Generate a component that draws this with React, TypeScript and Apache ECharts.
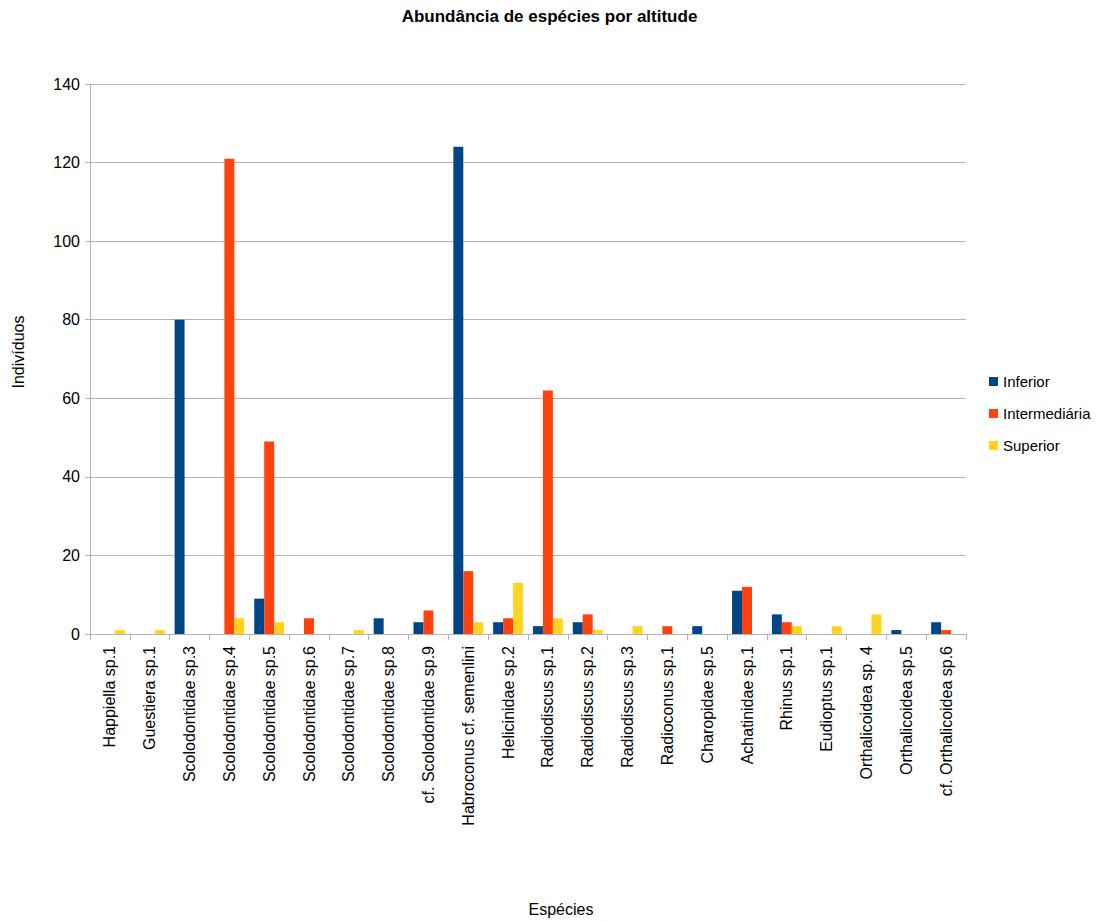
import React, { useEffect, useRef } from "react";
import * as echarts from "echarts";

const species = [
  "Happiella sp.1",
  "Guestiera sp.1",
  "Scolodontidae sp.3",
  "Scolodontidae sp.4",
  "Scolodontidae sp.5",
  "Scolodontidae sp.6",
  "Scolodontidae sp.7",
  "Scolodontidae sp.8",
  "cf. Scolodontidae sp.9",
  "Habroconus cf. semenlini",
  "Helicinidae sp.2",
  "Radiodiscus sp.1",
  "Radiodiscus sp.2",
  "Radiodiscus sp.3",
  "Radioconus sp.1",
  "Charopidae sp.5",
  "Achatinidae sp.1",
  "Rhinus sp.1",
  "Eudioptus sp.1",
  "Orthalicoidea sp. 4",
  "Orthalicoidea sp.5",
  "cf. Orthalicoidea sp.6",
];

const inferior = [0, 0, 80, 0, 9, 0, 0, 4, 3, 124, 3, 2, 3, 0, 0, 2, 11, 5, 0, 0, 1, 3];
const intermediaria = [0, 0, 0, 121, 49, 4, 0, 0, 6, 16, 4, 62, 5, 0, 2, 0, 12, 3, 0, 0, 0, 1];
const superior = [1, 1, 0, 4, 3, 0, 1, 0, 0, 3, 13, 4, 1, 2, 0, 0, 0, 2, 2, 5, 0, 0];

const yTicks = [0, 20, 40, 60, 80, 100, 120, 140];

const FONT = "'Liberation Sans', Arial, sans-serif";
const GRID = "#b3b3b3";

export default function App() {
  const ref = useRef<HTMLDivElement>(null);

  useEffect(() => {
    if (!ref.current) return;
    const chart = echarts.init(ref.current, undefined, { renderer: "svg" });
    const bar = (name: string, data: number[], color: string) => ({
      name,
      type: "bar",
      data,
      barGap: "0%",
      barCategoryGap: "25%",
      itemStyle: { color },
    });
    chart.setOption({
      animation: false,
      textStyle: { fontFamily: FONT },
      title: {
        text: "Abundância de espécies por altitude",
        left: "center",
        top: 3,
        textStyle: { fontFamily: FONT, fontSize: 17, fontWeight: "bold", color: "#000" },
      },
      legend: {
        orient: "vertical",
        left: 984,
        top: 369,
        itemWidth: 9,
        itemHeight: 9,
        itemGap: 17,
        icon: "rect",
        textStyle: { fontFamily: FONT, fontSize: 15, color: "#000" },
        data: ["Inferior", "Intermediária", "Superior"],
      },
      grid: {
        left: 90,
        top: 84,
        width: 876,
        height: 550,
        containLabel: false,
        outerBoundsMode: "none",
      },
      xAxis: {
        type: "category",
        data: species,
        name: "Espécies",
        nameLocation: "middle",
        nameGap: 267,
        nameTextStyle: { fontFamily: FONT, fontSize: 16, color: "#000", padding: [0, 0, 0, 66] },
        axisLine: { lineStyle: { color: GRID } },
        axisTick: { show: true, alignWithLabel: false, length: 6, lineStyle: { color: GRID } },
        axisLabel: {
          rotate: 90,
          interval: 0,
          margin: 12,
          fontFamily: FONT,
          fontSize: 16,
          color: "#000",
        },
      },
      yAxis: {
        type: "value",
        min: 0,
        max: yTicks[yTicks.length - 1],
        interval: yTicks[1] - yTicks[0],
        name: "Indivíduos",
        nameLocation: "middle",
        nameGap: 64,
        nameTextStyle: { fontFamily: FONT, fontSize: 16, color: "#000", padding: [0, 0, 0, 14] },
        axisLine: { show: true, lineStyle: { color: GRID } },
        axisTick: { show: true, length: 5, lineStyle: { color: GRID } },
        axisLabel: { margin: 10, fontFamily: FONT, fontSize: 16, color: "#000" },
        splitLine: { show: true, lineStyle: { color: GRID } },
      },
      series: [
        bar("Inferior", inferior, "#004586"),
        bar("Intermediária", intermediaria, "#ff420e"),
        bar("Superior", superior, "#ffd320"),
      ],
    });
    return () => chart.dispose();
  }, []);

  return (
    <div
      ref={ref}
      style={{ position: "fixed", left: 0, top: 0, width: 1099, height: 922, background: "#fff" }}
    />
  );
}
